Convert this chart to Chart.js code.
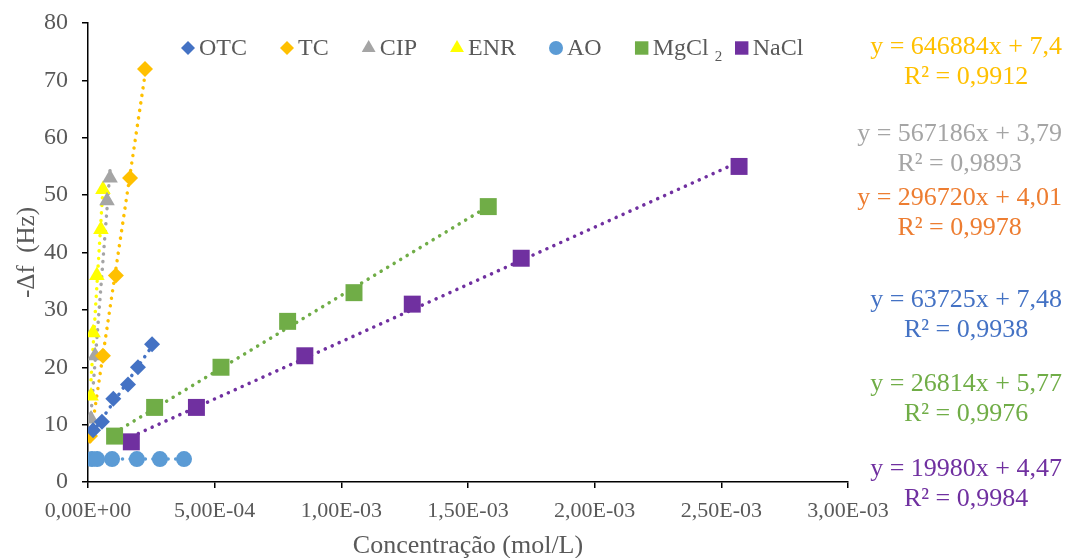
<!DOCTYPE html>
<html>
<head>
<meta charset="utf-8">
<script src="https://cdn.jsdelivr.net/npm/chart.js@4"></script>
<style>
  html, body { margin: 0; padding: 0; background: #fff; }
</style>
</head>
<body>
<canvas id="grafico" width="1066" height="558"></canvas>
<script>
// dados (concentração em mol/L, -Δf em Hz)
const otcX = [2.0e-5, 5.5e-5, 1.0e-4, 1.58e-4, 1.97e-4, 2.53e-4];
const otcY = [9, 10.5, 14.5, 17, 20, 24];
const tcX = [8e-6, 5.9e-5, 1.1e-4, 1.66e-4, 2.25e-4];
const tcY = [8, 22, 36, 53, 72];
const cipX = [1.2e-5, 2.8e-5, 7.5e-5, 8.7e-5];
const cipY = [11, 22, 49, 53];
const enrX = [1.2e-5, 2.0e-5, 3.5e-5, 5.1e-5, 5.9e-5];
const enrY = [15, 26, 36, 44, 51];
const aoX = [1.6e-5, 3.6e-5, 9.5e-5, 1.93e-4, 2.84e-4, 3.79e-4];
const aoY = [4, 4, 4, 4, 4, 4];
const mgX = [1.05e-4, 2.63e-4, 5.25e-4, 7.88e-4, 1.05e-3, 1.58e-3];
const mgY = [8, 13, 20, 28, 33, 48];
const naclX = [1.71e-4, 4.28e-4, 8.56e-4, 1.28e-3, 1.71e-3, 2.57e-3];
const naclY = [7, 13, 22, 31, 39, 55];

const equacoes = [
  { linhas: ['y = 646884x + 7,4', 'R² = 0,9912'], cor: '#FFC000', y: 47 },
  { linhas: ['y = 567186x + 3,79', 'R² = 0,9893'], cor: '#A5A5A5', y: 134 },
  { linhas: ['y = 296720x + 4,01', 'R² = 0,9978'], cor: '#ED7D31', y: 198 },
  { linhas: ['y = 63725x + 7,48', 'R² = 0,9938'], cor: '#4472C4', y: 300 },
  { linhas: ['y = 26814x + 5,77', 'R² = 0,9976'], cor: '#70AD47', y: 384 },
  { linhas: ['y = 19980x + 4,47', 'R² = 0,9984'], cor: '#7030A0', y: 469 }
];

const series = [
  { label: 'OTC', xs: otcX, ys: otcY, cor: '#4472C4', estilo: 'rectRot', r: 8, rl: 7 },
  { label: 'TC', xs: tcX, ys: tcY, cor: '#FFC000', estilo: 'rectRot', r: 8, rl: 7 },
  { label: 'CIP', xs: cipX, ys: cipY, cor: '#A5A5A5', estilo: 'triangle', r: 9, rl: 8 },
  { label: 'ENR', xs: enrX, ys: enrY, cor: '#FFFF00', estilo: 'triangle', r: 9, rl: 8 },
  { label: 'AO', xs: aoX, ys: aoY, cor: '#5B9BD5', estilo: 'circle', r: 8, rl: 7 },
  { label: 'MgCl', sub: '2', xs: mgX, ys: mgY, cor: '#70AD47', estilo: 'rect', r: 12, rl: 9.5 },
  { label: 'NaCl', xs: naclX, ys: naclY, cor: '#7030A0', estilo: 'rect', r: 12, rl: 9.5 }
];

// linha de tendência (mínimos quadrados) a partir dos pontos
function tendencia(xs, ys) {
  const n = xs.length;
  const mx = xs.reduce((a, b) => a + b, 0) / n;
  const my = ys.reduce((a, b) => a + b, 0) / n;
  let sxy = 0, sxx = 0;
  for (let i = 0; i < n; i++) {
    sxy += (xs[i] - mx) * (ys[i] - my);
    sxx += (xs[i] - mx) * (xs[i] - mx);
  }
  const a = sxx ? sxy / sxx : 0;
  const b = my - a * mx;
  const x0 = Math.min(...xs), x1 = Math.max(...xs);
  return [{ x: x0, y: a * x0 + b }, { x: x1, y: a * x1 + b }];
}

const datasets = [];
series.forEach(s => {
  datasets.push({
    label: s.label,
    data: s.xs.map((x, i) => ({ x: x, y: s.ys[i] })),
    pointStyle: s.estilo,
    pointRadius: s.r,
    pointHoverRadius: s.r,
    backgroundColor: s.cor,
    borderColor: s.cor,
    borderWidth: 0,
    showLine: false,
    order: 0
  });
});
series.forEach(s => {
  datasets.push({
    label: 'trend',
    data: tendencia(s.xs, s.ys),
    showLine: true,
    pointRadius: 0,
    borderColor: s.cor,
    borderWidth: 3.5,
    borderDash: [0.1, 7.5],
    borderCapStyle: 'round',
    order: 1
  });
});

function formatoCientifico(v) {
  if (v === 0) return '0,00E+00';
  const [m, e] = v.toExponential(2).split('e');
  const exp = parseInt(e);
  const sinal = exp < 0 ? '-' : '+';
  return m.replace('.', ',') + 'E' + sinal + String(Math.abs(exp)).padStart(2, '0');
}

const fonte = "'Liberation Serif', 'Times New Roman', serif";

// equações das linhas de tendência, blocos alinhados à direita
const equacoesPlugin = {
  id: 'equacoes',
  afterDraw(chart) {
    const ctx = chart.ctx;
    ctx.save();
    ctx.font = "26px " + fonte;
    ctx.textAlign = 'center';
    ctx.textBaseline = 'middle';
    equacoes.forEach(eq => {
      const w = Math.max(...eq.linhas.map(t => ctx.measureText(t).width));
      const cx = 1062 - w / 2;
      ctx.fillStyle = eq.cor;
      eq.linhas.forEach((t, i) => ctx.fillText(t, cx, eq.y + i * 30));
    });
    ctx.restore();
  }
};

// legenda horizontal dentro da área do gráfico
const legendaPlugin = {
  id: 'legenda',
  afterDraw(chart) {
    const ctx = chart.ctx;
    ctx.save();
    ctx.textBaseline = 'middle';
    ctx.textAlign = 'left';
    let x = 188;
    const y = 48;
    series.forEach(s => {
      ctx.fillStyle = s.cor;
      Chart.helpers.drawPoint(ctx, { pointStyle: s.estilo, radius: s.rl, rotation: 0, borderWidth: 0 }, x, y);
      ctx.fillStyle = '#595959';
      ctx.font = "24px " + fonte;
      ctx.fillText(s.label, x + 11, y + 1);
      const w = ctx.measureText(s.label).width;
      if (s.sub) {
        ctx.font = "15px " + fonte;
        ctx.fillText(s.sub, x + 11 + w + 6, y + 9);
        x += 11 + w + 33;
      } else {
        x += 11 + w + 40;
      }
    });
    ctx.restore();
  }
};

new Chart(document.getElementById('grafico'), {
  type: 'scatter',
  data: { datasets: datasets },
  options: {
    responsive: false,
    animation: false,
    devicePixelRatio: 1,
    layout: { padding: { left: 0, right: 218, top: 23, bottom: 0 } },
    plugins: {
      tooltip: { enabled: false },
      legend: { display: false }
    },
    scales: {
      x: {
        type: 'linear',
        min: 0,
        max: 0.003,
        afterFit: s => { s.height = 76; },
        border: { color: '#000', width: 1.5 },
        grid: { drawOnChartArea: false, drawTicks: true, tickLength: 6, color: '#000', lineWidth: 1.5 },
        ticks: {
          stepSize: 0.0005,
          color: '#595959',
          font: { family: fonte, size: 22 },
          padding: 10,
          maxRotation: 0,
          callback: v => formatoCientifico(v)
        },
        title: {
          display: true,
          text: 'Concentração (mol/L)',
          color: '#595959',
          font: { family: fonte, size: 26 },
          padding: { top: 0, bottom: -4 }
        }
      },
      y: {
        min: 0,
        max: 80,
        afterFit: s => { s.width = 88; s.paddingTop = 0; s.paddingBottom = 0; },
        border: { color: '#000', width: 1.5 },
        grid: { drawOnChartArea: false, drawTicks: true, tickLength: 6, color: '#000', lineWidth: 1.5 },
        ticks: {
          stepSize: 10,
          color: '#595959',
          font: { family: fonte, size: 24 },
          padding: 14
        },
        title: {
          display: true,
          text: '-Δf  (Hz)',
          color: '#595959',
          font: { family: fonte, size: 25 },
          padding: { top: 12, bottom: 0 }
        }
      }
    }
  },
  plugins: [equacoesPlugin, legendaPlugin]
});
</script>
</body>
</html>
